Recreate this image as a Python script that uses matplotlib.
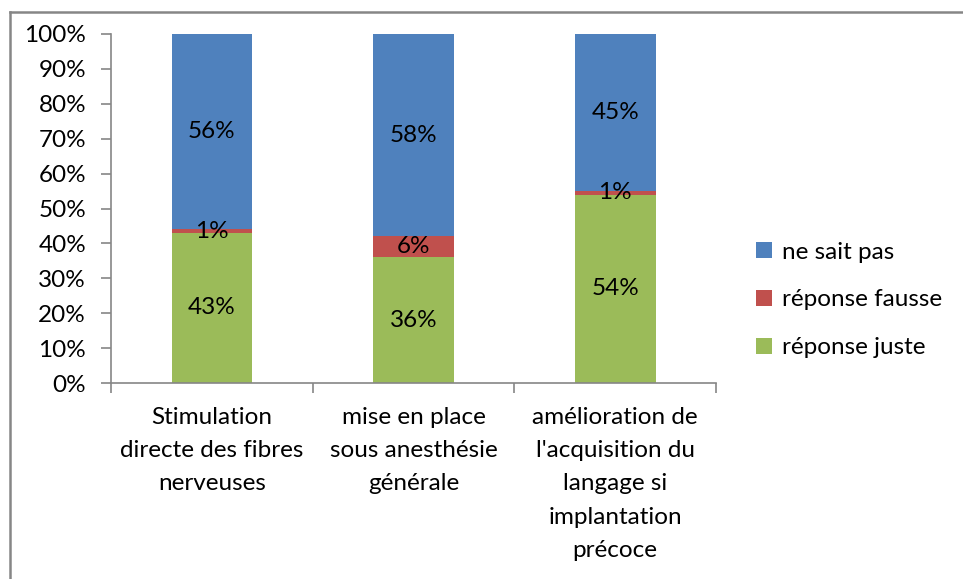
import matplotlib
matplotlib.use("Agg")
import matplotlib.pyplot as plt
from matplotlib.lines import Line2D
from matplotlib.patches import Patch

plt.rcParams['font.family'] = ['Lato', 'DejaVu Sans']

categories = ["Stimulation\ndirecte des fibres\nnerveuses",
              "mise en place\nsous anesthésie\ngénérale",
              "amélioration de\nl'acquisition du\nlangage si\nimplantation\nprécoce"]
juste = [43, 36, 54]
fausse = [1, 6, 1]
nsp = [56, 58, 45]
series_names = ["réponse juste", "réponse fausse", "ne sait pas"]
colors = ["#9BBB59", "#C0504D", "#4F81BD"]
yticks = [0, 10, 20, 30, 40, 50, 60, 70, 80, 90, 100]

W, H = 963, 579
fig = plt.figure(figsize=(W / 100, H / 100), dpi=100)
ax = fig.add_axes([111 / W, 1 - 383 / H, (716 - 111) / W, (383 - 34) / H])

fs = 17.5
x = list(range(len(categories)))
bottom = [0] * len(x)
for vals, col in zip([juste, fausse, nsp], colors):
    ax.bar(x, vals, bottom=bottom, width=0.4, color=col, zorder=2)
    for xi, v, b in zip(x, vals, bottom):
        ax.text(xi, b + v / 2, f"{v}%", ha="center", va="center", fontsize=fs, color="black", zorder=3)
    bottom = [b + v for b, v in zip(bottom, vals)]

ax.set_xlim(-0.5, 2.5)
ax.set_ylim(0, 100)
ax.set_yticks(yticks)
ax.set_yticklabels([f"{t}%" for t in yticks], fontsize=fs)
ax.set_xticks(x)
ax.set_xticklabels(categories, fontsize=fs, linespacing=1.73, va="top")
ax.tick_params(axis="x", length=0, pad=17)
ax.set_xticks([-0.5, 0.5, 1.5, 2.5], minor=True)
ax.tick_params(axis="x", which="minor", length=7, color="#868686", width=1.2)
ax.tick_params(axis="y", length=7, color="#868686", width=1.2, pad=11)
for s in ["top", "right"]:
    ax.spines[s].set_visible(False)
for s in ["left", "bottom"]:
    ax.spines[s].set_color("#868686")
    ax.spines[s].set_linewidth(1.2)

handles = [Patch(facecolor=c) for c in colors[::-1]]
fig.legend(handles, series_names[::-1], loc="center left", bbox_to_anchor=(744 / W, 1 - 300 / H),
           frameon=False, fontsize=fs, handlelength=0.65, handleheight=0.65, handletextpad=0.4,
           labelspacing=1.1, borderpad=0)

fig.add_artist(Line2D([10 / W, 10 / W], [0, 1 - 12 / H], transform=fig.transFigure, color="#868686", lw=1.8))
fig.add_artist(Line2D([10 / W, 1], [1 - 12 / H, 1 - 12 / H], transform=fig.transFigure, color="#868686", lw=1.8))

fig.savefig("out.png", dpi=100)
